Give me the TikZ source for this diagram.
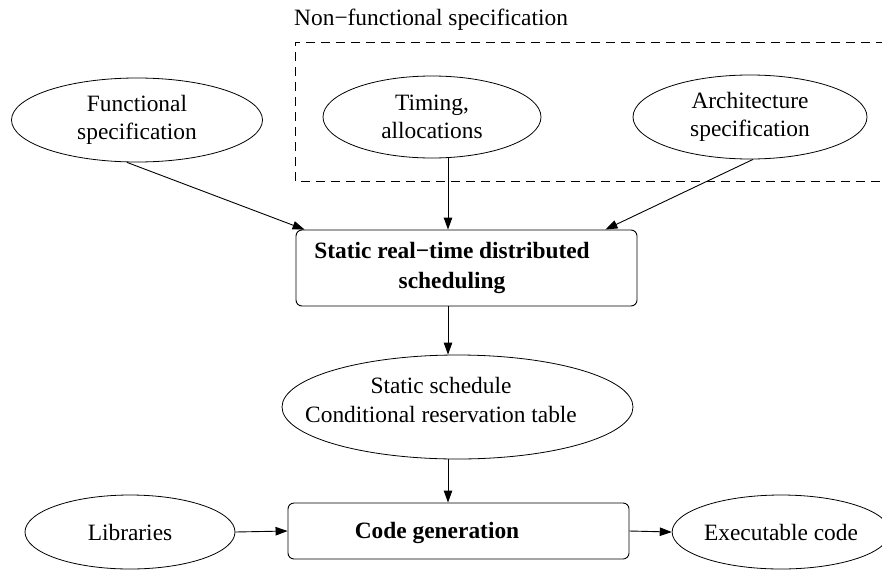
\documentclass[tikz,border=0pt]{standalone}
\usepackage{fontspec}
\setmainfont{Liberation Serif}
\usetikzlibrary{arrows.meta,shapes.geometric}
\begin{document}
\begin{tikzpicture}[x=1pt,y=-1pt,
  every node/.style={font=\fontsize{23.4}{28.5}\selectfont, inner sep=0pt},
  oval/.style={draw, ellipse, line width=0.8pt, align=center},
  procbox/.style={draw, rectangle, rounded corners=6pt, line width=0.9pt},
  flow/.style={line width=0.9pt, -{Triangle[length=12pt,width=8.5pt]}},
  groupbox/.style={line width=0.8pt, dash pattern=on 9pt off 6pt}]
\useasboundingbox (0,0) rectangle (882,570);

% non-functional group
\draw[groupbox] (900,42) -- (295,42) -- (295,181) -- (900,181);
\node[anchor=base west] (nflabel) at (294,25) {Non−functional specification};

% top ellipses
\node[oval, minimum width=251pt, minimum height=84pt] (func) at (137,120) {Functional\\specification};
\node[oval, minimum width=218pt, minimum height=82pt] (timing) at (432,117) {Timing,\\allocations};
\node[oval, minimum width=234pt, minimum height=84pt] (arch) at (750,117) {Architecture\\specification};

% scheduling box
\node[procbox, minimum width=341pt, minimum height=76pt] (sched) at (466.5,268) {};
\node[align=center, font=\fontsize{23.4}{30}\selectfont\bfseries] (schedtxt) at (452,268) {Static real−time distributed\\scheduling};

% static schedule
\node[oval, minimum width=351pt, minimum height=104pt] (static) at (457.5,407) {};
\node[align=center] (statictxt) at (441,400) {Static schedule\\Conditional reservation table};

% bottom row
\node[procbox, minimum width=341pt, minimum height=56pt] (code) at (458.5,531) {};
\node[font=\fontsize{23.4}{28.5}\selectfont\bfseries] (codetxt) at (437,533) {Code generation};
\node[oval, minimum width=210pt, minimum height=74pt] (lib) at (130,532) {Libraries};
\node[oval, minimum width=202pt, minimum height=74pt] (exec) at (781,532) {Executable code};

\coordinate (vx) at (448,0);

% connectors
\draw[flow] ([xshift=-10pt]func.south) -- ([xshift=9pt]sched.north west);
\draw[flow] (timing.south -| vx) -- (sched.north -| vx);
\draw[flow] ([xshift=3pt]arch.south) -- ([xshift=-32pt]sched.north east);
\draw[flow] (sched.south -| vx) -- (static.north -| vx);
\draw[flow] (static.south -| vx) -- (code.north -| vx);
\draw[flow] (lib.east) -- (code.west);
\draw[flow] (code.east) -- (exec.west);
\end{tikzpicture}
\end{document}
